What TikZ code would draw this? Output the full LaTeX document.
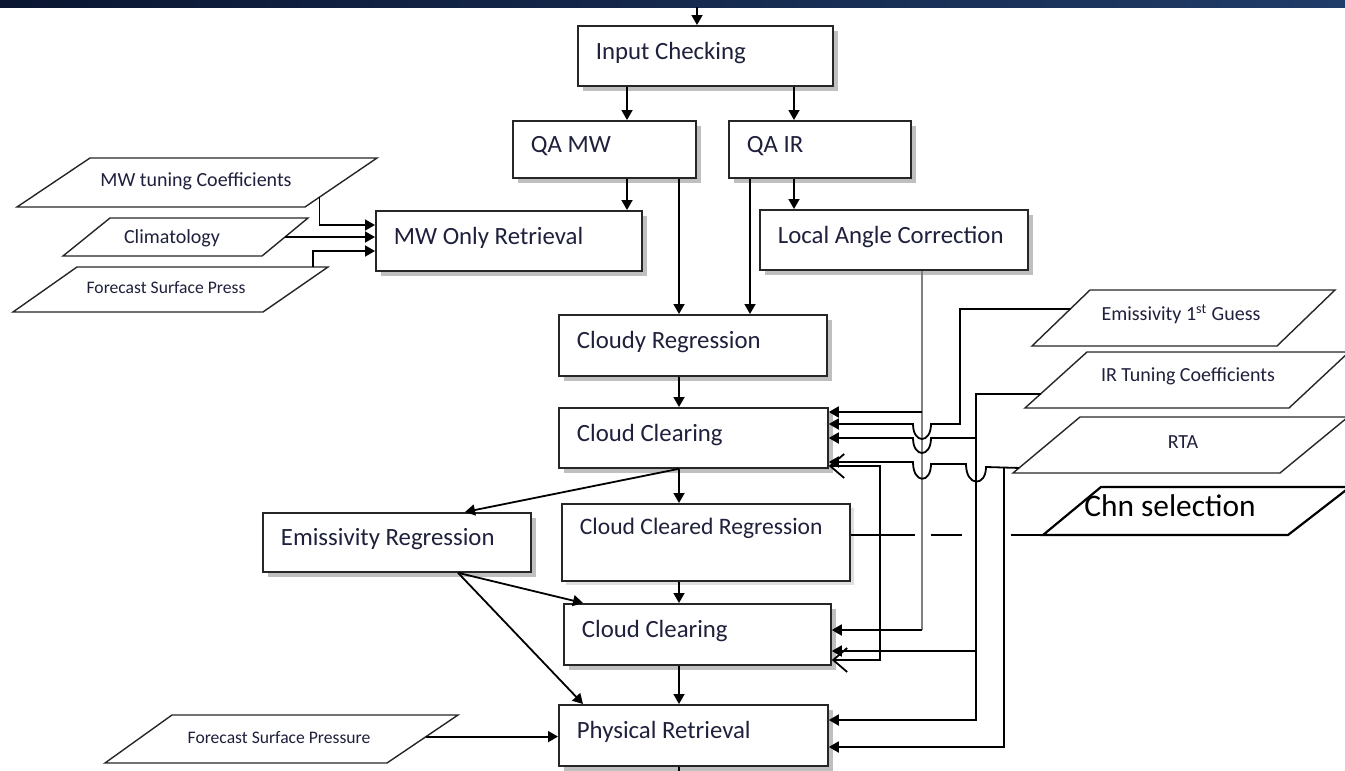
\documentclass[tikz,border=0pt]{standalone}
\usepackage{fontspec}
\setmainfont{Carlito}
\usepackage{xcolor}
\usetikzlibrary{arrows.meta, calc, shadows}
\definecolor{txtnavy}{RGB}{30,32,60}
\definecolor{bandL}{RGB}{10,22,50}
\definecolor{bandR}{RGB}{32,60,104}

\begin{document}
\begin{tikzpicture}[x=0.5pt,y=-0.5pt,
    >={Triangle[length=5pt,width=5.5pt]},
    boxbase/.style={draw=black!85, line width=0.9pt, fill=white, anchor=north west, align=flush left,
      inner xsep=9pt, inner ysep=0pt, text=txtnavy, font=\fontsize{12.4}{14}\selectfont},
    box/.style={boxbase, text height=9pt, text depth=5.5pt,
      drop shadow={shadow xshift=2.5pt, shadow yshift=-2.5pt, opacity=0.5}},
    paraline/.style={draw=black!85, line width=0.7pt, fill=white, line join=miter},
    paratext/.style={inner sep=0pt, text=txtnavy, font=\fontsize{10}{12}\selectfont},
    wire/.style={->, line width=0.9pt},
    greywire/.style={line width=0.7pt, draw=black!50},
    barb/.style={{Straight Barb[length=7pt,width=12pt]}-{Straight Barb[length=7pt,width=12pt]}, line width=0.9pt}
  ]
  \useasboundingbox (0,0) rectangle (1345,771);
  \clip (0,0) rectangle (1345,771);
  \shade[left color=bandL, right color=bandR] (0,0) rectangle (1345,7);%上の帯

  \node[box, text width=109.5pt, minimum height=30pt] (input) at (577,25) {Input Checking};
  \node[box, text width=73.5pt, minimum height=28.5pt] (qamw) at (512,120) {QA MW};
  \node[box, text width=73pt, minimum height=28.5pt] (qair) at (728,120) {QA IR};
  \node[box, text width=115pt, minimum height=30pt] (mwonly) at (375,210) {MW Only Retrieval};
  \node[box, text width=116pt, minimum height=30pt] (lac) at (759,209) {Local Angle Correction};
  \node[box, text width=116pt, minimum height=30.5pt] (cloudy) at (558,314) {Cloudy Regression};
  \node[box, text width=116.5pt, minimum height=30pt] (cc1) at (558,407) {Cloud Clearing};
  \node[box, text width=116pt, minimum height=29.5pt] (emreg) at (262,512) {Emissivity Regression};
  \node[boxbase, drop shadow={shadow xshift=2pt, shadow yshift=-2pt, opacity=0.25},
    text width=126pt, minimum height=38.5pt, font=\fontsize{11.8}{16}\selectfont] (ccr) at (561,503) {Cloud Cleared Regression\\ \mbox{}};
  \node[box, text width=115.5pt, minimum height=30.5pt] (cc2) at (563,603) {Cloud Clearing};
  \node[box, text width=116.5pt, minimum height=30.5pt] (phys) at (558,704) {Physical Retrieval};

  %左の入力
  \draw[paraline] (17,207) coordinate (mwtc-bl) -- (90,158) coordinate (mwtc-tl) -- (377,158) coordinate (mwtc-tr) -- (305,207) coordinate (mwtc-br) -- cycle;
  \node[paratext] (mwtc) at (196,181) {MW tuning Coefficients};
  \draw[paraline] (63,256) coordinate (clim-bl) -- (110,218) coordinate (clim-tl) -- (308,218) coordinate (clim-tr) -- (262,256) coordinate (clim-br) -- cycle;
  \node[paratext] (clim) at (172,238) {Climatology};
  \draw[paraline] (13,312) coordinate (fsp-bl) -- (77,267) coordinate (fsp-tl) -- (328,267) coordinate (fsp-tr) -- (263,312) coordinate (fsp-br) -- cycle;
  \node[paratext, font=\fontsize{8.8}{10}\selectfont] (fsp) at (166,288) {Forecast Surface Press};
  \draw[paraline] (105,763) coordinate (fsp2-bl) -- (172,715) coordinate (fsp2-tl) -- (458,715) coordinate (fsp2-tr) -- (387,763) coordinate (fsp2-br) -- cycle;
  \node[paratext, font=\fontsize{8.8}{10}\selectfont] (fsp2) at (279,738) {Forecast Surface Pressure};
  %右の入力
  \draw[paraline] (1032,346) coordinate (em1-bl) -- (1090,290) coordinate (em1-tl) -- (1335,290) coordinate (em1-tr) -- (1277,346) coordinate (em1-br) -- cycle;
  \node[paratext] (em1) at (1181,314) {Emissivity 1\textsuperscript{st} Guess};
  \draw[paraline] (1025,408) coordinate (irtc-bl) -- (1087,352) coordinate (irtc-tl) -- (1349,352) coordinate (irtc-tr) -- (1289,408) coordinate (irtc-br) -- cycle;
  \node[paratext] (irtc) at (1188,376) {IR Tuning Coefficients};
  \draw[paraline] (1013,473) coordinate (rta-bl) -- (1080,417) coordinate (rta-tl) -- (1348,417) coordinate (rta-tr) -- (1280,473) coordinate (rta-br) -- cycle;
  \node[paratext] (rta) at (1183,442) {RTA};
  \draw[paraline, draw=black, line width=1.1pt] (1043,535) coordinate (chn-bl) -- (1101,487) coordinate (chn-tl) -- (1350,487) coordinate (chn-tr) -- (1288,535) coordinate (chn-br) -- cycle;
  \node[inner sep=0pt, text=black, font=\fontsize{15.7}{18}\selectfont] (chn) at (1170,506) {Chn selection};

  \coordinate (feed) at (697,7);
  \draw[wire] (feed) -- (feed |- input.north);
  \draw[wire] (input.south -| 627,0) -- (qamw.north -| 627,0);
  \draw[wire] (input.south -| 794,0) -- (qair.north -| 794,0);
  \draw[wire] (qamw.south -| 627,0) -- (mwonly.north -| 627,0);
  \draw[wire] (qamw.south -| 679,0) -- (cloudy.north -| 679,0);
  \draw[wire] (qair.south -| 750,0) -- (cloudy.north -| 750,0);
  \draw[wire] (qair.south -| 794,0) -- (lac.north -| 794,0);
  \draw[wire] (cloudy.south -| 679,0) -- (cc1.north -| 679,0);
  \draw[wire] (cc1.south -| 679,0) -- (ccr.north -| 679,0);
  \draw[wire] (cc1.south -| 679,0) -- (emreg.north -| 465,0);
  \draw[wire] (ccr.south -| 679,0) -- (cc2.north -| 679,0);
  \draw[wire] (cc2.south -| 679,0) -- (phys.north -| 679,0);
  \draw[wire] (emreg.south -| 458,0) -- (cc2.north -| 583,0);
  \draw[wire] (emreg.south -| 458,0) -- (phys.north -| 583,0);
  \coordinate (fspout) at ($(fsp2-br)!0.55!(fsp2-tr)$);
  \draw[wire] (fspout) -- (fspout -| phys.west);
  \coordinate (out) at (679,771);
  \draw[line width=0.9pt] (phys.south -| out) -- (out);

  \draw[wire] ($(mwtc-br)!0.2!(mwtc-tr)$) |- (mwonly.west |- 0,225);
  \coordinate (climout) at ($(clim-br)!0.5!(clim-tr)$);
  \draw[wire] (climout) -- (climout -| mwonly.west);
  \draw[wire] (fsp-tr -| 313,0) |- (mwonly.west |- 0,251);

  \coordinate (lacbus) at (922,412);
  \coordinate (irbus) at (976,438);
  \coordinate (rtabus) at (1004,467);
  \draw[greywire] (lac.south -| lacbus) -- (lacbus |- 0,630);
  \draw[wire] (lacbus) -- (cc1.east |- lacbus);
  \draw[wire] (lacbus |- 0,630) -- (cc2.east |- 0,630);
  \draw[wire] ($(em1-bl)!0.66!(em1-tl)$) -| (960,424) -- (931,424)
    .. controls (931,444) and (913,444) .. (913,424) -- (cc1.east |- 0,424);
  \draw[wire] ($(irtc-bl)!0.25!(irtc-tl)$) -| (976,720) -- (phys.east |- 0,720);
  \draw[wire] (irbus) -- (931,438) .. controls (931,458) and (913,458) .. (913,438) -- (cc1.east |- irbus);
  \draw[wire] (irbus |- 0,651) -- (cc2.east |- 0,651);
  \draw[wire] ($(rta-bl)!0.09!(rta-tl)$) -- (986,467)
    .. controls (986,487) and (966,487) .. (966,464) -- (931,464)
    .. controls (931,484) and (913,484) .. (913,462) -- (cc1.east |- 0,462);
  \draw[wire] (rtabus) |- (phys.east |- 0,747);
  \draw[barb] (cc1.east |- 0,466) -| (880,660) -- (cc2.east |- 0,660);%戻り
  \draw[line width=0.9pt, dash pattern=on 32pt off 8pt on 15.5pt off 24.5pt on 30pt]
    (ccr.east |- chn-bl) -- (chn-bl);
\end{tikzpicture}
\end{document}
